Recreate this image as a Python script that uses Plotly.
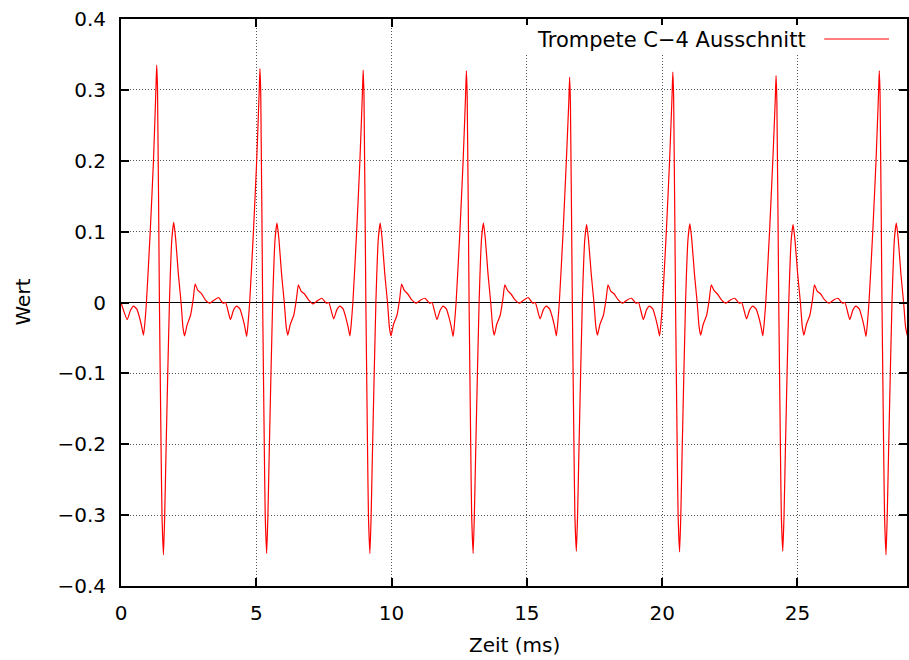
import plotly.graph_objects as go

# ---- data (time in ms, value) ----
c1_t = [0.00, 0.23, 0.35, 0.46, 0.58, 0.67, 0.76, 0.83, 0.88, 0.94, 1.08, 1.20, 1.29, 1.32, 1.35, 1.42, 1.48, 1.515, 1.57, 1.615,
        1.67, 1.79, 1.88, 1.95, 2.02, 2.12, 2.22, 2.29, 2.35, 2.44, 2.57, 2.67, 2.74, 2.84, 2.97, 3.11, 3.28, 3.46, 3.61, 3.77]
c1_v = [0.000, -0.024, -0.011, -0.005, -0.009, -0.019, -0.033, -0.046, -0.030, 0.000, 0.100, 0.200, 0.300, 0.335, 0.300, 0.000,
        -0.200, -0.300, -0.356, -0.300, -0.200, 0.000, 0.090, 0.113, 0.090, 0.040, 0.000, -0.035, -0.047, -0.032, -0.018, 0.005,
        0.026, 0.017, 0.013, 0.004, -0.001, 0.004, 0.007, -0.001]

c2_t = [3.865, 4.045, 4.165, 4.275, 4.395, 4.485, 4.575, 4.645, 4.695, 4.755, 4.895, 5.015, 5.105, 5.135, 5.165, 5.235, 5.295,
        5.33, 5.385, 5.43, 5.485, 5.605, 5.695, 5.765, 5.835, 5.935, 6.035, 6.105, 6.165, 6.255, 6.385, 6.485, 6.555, 6.655,
        6.785, 6.925, 7.095, 7.275, 7.425, 7.585]
c2_v = [0.000, -0.024, -0.010, -0.005, -0.009, -0.020, -0.034, -0.048, -0.030, 0.000, 0.100, 0.200, 0.295, 0.330, 0.295, 0.000,
        -0.200, -0.300, -0.354, -0.300, -0.200, 0.000, 0.090, 0.112, 0.090, 0.040, 0.000, -0.034, -0.046, -0.031, -0.018, 0.005,
        0.025, 0.016, 0.012, 0.004, -0.002, 0.003, 0.006, -0.001]

c3_t = [7.68, 7.86, 7.98, 8.09, 8.21, 8.30, 8.39, 8.46, 8.51, 8.57, 8.71, 8.83, 8.92, 8.95, 8.98, 9.05, 9.11, 9.145, 9.20, 9.245,
        9.30, 9.42, 9.51, 9.58, 9.65, 9.75, 9.85, 9.92, 9.98, 10.07, 10.20, 10.30, 10.37, 10.47, 10.60, 10.74, 10.91, 11.09,
        11.24, 11.40]
c3_v = [0.000, -0.023, -0.010, -0.005, -0.009, -0.020, -0.034, -0.047, -0.030, 0.000, 0.100, 0.200, 0.293, 0.328, 0.293, 0.000,
        -0.200, -0.300, -0.354, -0.300, -0.200, 0.000, 0.090, 0.112, 0.090, 0.040, 0.000, -0.035, -0.047, -0.031, -0.018, 0.005,
        0.026, 0.017, 0.012, 0.004, -0.001, 0.004, 0.006, -0.001]

c4_t = [11.495, 11.675, 11.795, 11.905, 12.025, 12.115, 12.205, 12.275, 12.325, 12.385, 12.525, 12.645, 12.735, 12.765, 12.795,
        12.865, 12.925, 12.96, 13.015, 13.06, 13.115, 13.235, 13.325, 13.395, 13.465, 13.565, 13.665, 13.735, 13.795, 13.885,
        14.015, 14.115, 14.185, 14.285, 14.415, 14.555, 14.725, 14.905, 15.055, 15.215]
c4_v = [0.000, -0.024, -0.011, -0.005, -0.009, -0.020, -0.034, -0.048, -0.030, 0.000, 0.100, 0.200, 0.292, 0.327, 0.292, 0.000,
        -0.200, -0.300, -0.354, -0.300, -0.200, 0.000, 0.090, 0.112, 0.090, 0.040, 0.000, -0.034, -0.046, -0.031, -0.018, 0.005,
        0.025, 0.017, 0.012, 0.004, -0.001, 0.004, 0.007, -0.001]

c5_t = [15.31, 15.49, 15.61, 15.72, 15.84, 15.93, 16.02, 16.09, 16.14, 16.20, 16.34, 16.46, 16.55, 16.58, 16.61, 16.68, 16.74,
        16.775, 16.83, 16.875, 16.93, 17.05, 17.14, 17.21, 17.28, 17.38, 17.48, 17.55, 17.61, 17.70, 17.83, 17.93, 18.00, 18.10,
        18.23, 18.37, 18.54, 18.72, 18.87, 19.03]
c5_v = [0.000, -0.023, -0.010, -0.005, -0.009, -0.019, -0.033, -0.047, -0.030, 0.000, 0.100, 0.200, 0.283, 0.318, 0.283, 0.000,
        -0.200, -0.300, -0.351, -0.300, -0.200, 0.000, 0.088, 0.110, 0.088, 0.040, 0.000, -0.034, -0.046, -0.031, -0.018, 0.005,
        0.025, 0.016, 0.012, 0.004, -0.001, 0.004, 0.006, -0.001]

c6_t = [19.125, 19.305, 19.425, 19.535, 19.655, 19.745, 19.835, 19.905, 19.955, 20.015, 20.155, 20.275, 20.365, 20.395, 20.425,
        20.495, 20.555, 20.59, 20.645, 20.69, 20.745, 20.865, 20.955, 21.025, 21.095, 21.195, 21.295, 21.365, 21.425, 21.515,
        21.645, 21.745, 21.815, 21.915, 22.045, 22.185, 22.355, 22.535, 22.685, 22.845]
c6_v = [0.000, -0.024, -0.010, -0.005, -0.009, -0.020, -0.034, -0.047, -0.030, 0.000, 0.100, 0.200, 0.290, 0.325, 0.290, 0.000,
        -0.200, -0.300, -0.352, -0.300, -0.200, 0.000, 0.089, 0.111, 0.089, 0.040, 0.000, -0.034, -0.046, -0.031, -0.018, 0.005,
        0.025, 0.017, 0.012, 0.004, -0.001, 0.004, 0.006, -0.001]

c7_t = [22.94, 23.12, 23.24, 23.35, 23.47, 23.56, 23.65, 23.72, 23.77, 23.83, 23.97, 24.09, 24.18, 24.21, 24.24, 24.31, 24.37,
        24.405, 24.46, 24.505, 24.56, 24.68, 24.77, 24.84, 24.91, 25.01, 25.11, 25.18, 25.24, 25.33, 25.46, 25.56, 25.63, 25.73,
        25.86, 26.00, 26.17, 26.35, 26.50, 26.66]
c7_v = [0.000, -0.023, -0.010, -0.005, -0.009, -0.019, -0.033, -0.047, -0.030, 0.000, 0.100, 0.200, 0.285, 0.320, 0.285, 0.000,
        -0.200, -0.300, -0.351, -0.300, -0.200, 0.000, 0.088, 0.110, 0.088, 0.040, 0.000, -0.034, -0.046, -0.031, -0.018, 0.005,
        0.025, 0.016, 0.012, 0.004, -0.001, 0.004, 0.006, -0.001]

c8_t = [26.755, 26.935, 27.055, 27.165, 27.285, 27.375, 27.465, 27.535, 27.585, 27.645, 27.785, 27.905, 27.995, 28.025, 28.055,
        28.125, 28.185, 28.22, 28.275, 28.32, 28.375, 28.495, 28.585, 28.655, 28.725, 28.825, 28.925, 28.995, 29.055]
c8_v = [0.000, -0.024, -0.010, -0.005, -0.009, -0.020, -0.034, -0.048, -0.030, 0.000, 0.100, 0.200, 0.292, 0.327, 0.292, 0.000,
        -0.200, -0.300, -0.356, -0.300, -0.200, 0.000, 0.090, 0.112, 0.090, 0.040, 0.000, -0.034, -0.046]

x_ticks = [0, 5, 10, 15, 20, 25]
y_ticks = [-0.4, -0.3, -0.2, -0.1, 0, 0.1, 0.2, 0.3, 0.4]
y_tick_labels = ["\u22120.4", "\u22120.3", "\u22120.2", "\u22120.1", "0", "0.1", "0.2", "0.3", "0.4"]
series_name = "Trompete C\u22124 Ausschnitt"

time_ms = c1_t + c2_t + c3_t + c4_t + c5_t + c6_t + c7_t + c8_t
wert = c1_v + c2_v + c3_v + c4_v + c5_v + c6_v + c7_v + c8_v

FONT = "DejaVu Sans"
FS = 20

fig = go.Figure()
fig.add_trace(go.Scatter(x=time_ms, y=wert, mode="lines", name=series_name,
                         line=dict(color="#ff0000", width=1.2, shape="spline", smoothing=0.5),
                         showlegend=False))

axis_common = dict(
    showline=True, linecolor="black", linewidth=2, mirror="ticks",
    ticks="inside", ticklen=8, tickwidth=1.5, tickcolor="black",
    showgrid=True, gridcolor="#555555", gridwidth=1, griddash="1px,2px",
    tickfont=dict(family=FONT, size=FS, color="black"),
)

fig.update_xaxes(range=[0, 29.05], tickvals=x_ticks, zeroline=False,
                 ticklabelstandoff=8, **axis_common)
fig.update_yaxes(range=[-0.4, 0.4], tickvals=y_ticks, ticktext=y_tick_labels,
                 zeroline=True, zerolinecolor="black", zerolinewidth=1.3,
                 ticklabelstandoff=9, **axis_common)

W, H = 909, 660
L, R, T, B = 121, 0, 19, 74
pw, ph = W - L - R, H - T - B

def px(xp):
    return (xp - L) / pw

def py(yp):
    return 1 - (yp - T) / ph

fig.update_layout(
    width=W, height=H,
    margin=dict(l=L, r=R, t=T, b=B),
    paper_bgcolor="white", plot_bgcolor="white",
    font=dict(family=FONT, size=FS, color="black"),
    showlegend=False,
    shapes=[
        dict(type="rect", xref="paper", yref="paper", x0=px(524), x1=px(900), y0=py(54), y1=py(25),
             fillcolor="white", line=dict(width=0), layer="above"),
        dict(type="line", xref="paper", yref="paper", x0=px(826), x1=px(891), y0=py(39), y1=py(39),
             line=dict(color="#ff0000", width=1.2), layer="above"),
    ],
    annotations=[
        dict(text=series_name, xref="paper", yref="paper", x=px(810), y=py(40),
             xanchor="right", yanchor="middle", showarrow=False,
             font=dict(family=FONT, size=21, color="black")),
        dict(text="Zeit (ms)", xref="paper", yref="paper", x=0.5, y=0, yshift=-59,
             xanchor="center", yanchor="middle", showarrow=False,
             font=dict(family=FONT, size=FS, color="black")),
        dict(text="Wert", xref="paper", yref="paper", x=0, xshift=22 - L, y=0.5,
             xanchor="center", yanchor="middle", textangle=-90, showarrow=False,
             font=dict(family=FONT, size=FS, color="black")),
    ],
)

fig.write_html("out.html")
